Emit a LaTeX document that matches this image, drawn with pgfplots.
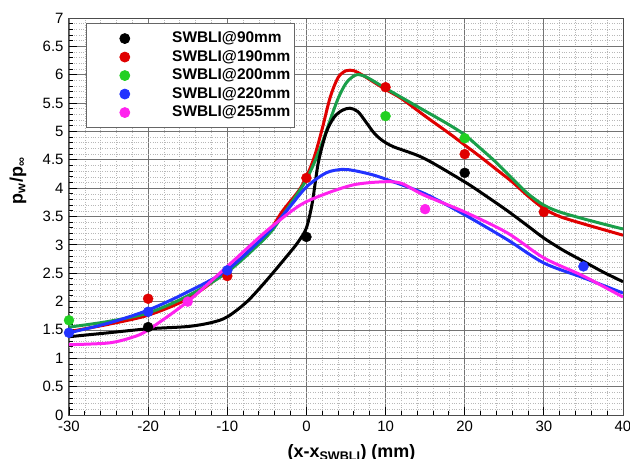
\documentclass[border=0pt]{standalone}
\usepackage{fontspec}
\setmainfont{Liberation Sans}
\usepackage{pgfplots}
\pgfplotsset{compat=1.18}
\definecolor{cgreenline}{HTML}{1A9F4A}
\definecolor{cgreendot}{HTML}{22D022}
\definecolor{cred}{HTML}{E00000}
\definecolor{cblue}{HTML}{2233FF}
\definecolor{cmag}{HTML}{FF22EE}
\begin{document}
\begin{tikzpicture}
\begin{axis}[
  scale only axis, width=554bp, height=397bp,
  xmin=-30, xmax=40, ymin=0, ymax=7,
  xtick={-30,-20,...,40}, ytick={0,0.5,...,7},
  minor x tick num=4, minor y tick num=4,
  grid=both,
  major grid style={draw=black!55, line width=0.8bp},
  minor grid style={draw=black!28, dotted, line width=0.6bp},
  tick align=inside,
  xtick pos=left, ytick pos=left,
  major tick length=8bp, minor tick length=4bp,
  tick style={black, line width=0.9bp},
  axis line style={black!70, line width=1bp},
  /pgf/number format/assume math mode=true,
  ticklabel style={font=\fontsize{15}{18}\selectfont},
  xticklabel style={yshift=-3bp},
  yticklabel style={xshift=-2bp},
  xlabel={\bfseries (x-x\textsubscript{SWBLI}) (mm)},
  xlabel style={font=\fontsize{18}{20}\selectfont, at={(axis description cs:0.51,0)}, anchor=north, yshift=-26bp},
  ylabel={\bfseries p\textsubscript{w}/p\textsubscript{∞}},
  ylabel style={font=\fontsize{18}{20}\selectfont, at={(axis description cs:-0.092,0.59)}, anchor=center, rotate=0},
  legend style={at={(axis description cs:0.0307,0.987)}, anchor=north west,
    draw=black!60, line width=0.8bp, fill=white,
    font=\bfseries\fontsize{15.5}{18}\selectfont,
    inner xsep=4bp, inner ysep=8bp, row sep=4.5bp,
    nodes={inner sep=0pt, text height=11bp, text depth=3bp}},
  legend cell align=left,
  legend image code/.code={\draw[#1] plot coordinates {(0bp,0bp)}; \path (-34bp,0bp) (47bp,0bp);},
]
% data points
\addplot[only marks, mark=*, mark size=5bp, black] coordinates {(-20,1.55) (0,3.14) (20,4.27)};
\addlegendentry{SWBLI@90mm}
\addplot[only marks, mark=*, mark size=5bp, cred] coordinates {(-20,2.05) (-10,2.45) (0,4.18) (10,5.78) (20,4.6) (30,3.58)};
\addlegendentry{SWBLI@190mm}
\addplot[only marks, mark=*, mark size=5bp, cgreendot] coordinates {(-30,1.67) (10,5.27) (20,4.88)};
\addlegendentry{SWBLI@200mm}
\addplot[only marks, mark=*, mark size=5bp, cblue] coordinates {(-30,1.45) (-20,1.82) (-10,2.55) (35,2.62)};
\addlegendentry{SWBLI@220mm}
\addplot[only marks, mark=*, mark size=5bp, cmag] coordinates {(-15,2.0) (15,3.63)};
\addlegendentry{SWBLI@255mm}
% curves
\addplot[forget plot, smooth, cred, line width=3bp] coordinates {
(-30,1.47) (-25,1.6) (-20,1.76) (-15,2.05) (-10,2.55) (-5,3.2) (-3,3.6) (-1,3.95) (0,4.2) (1,4.55) (2,5.05) (3,5.6) (4,5.95) (5,6.07) (6,6.07) (7,6.0) (8.5,5.87) (10,5.74) (12,5.58) (15,5.27) (18,4.97) (20,4.76) (22,4.55) (24,4.33) (26,4.11) (28,3.86) (30,3.64) (32,3.5) (35,3.37) (38,3.25) (40,3.17)};
\addplot[forget plot, smooth, cgreenline, line width=3bp] coordinates {
(-30,1.55) (-25,1.65) (-20,1.8) (-15,2.1) (-10,2.52) (-5,3.15) (-3,3.52) (-1,3.93) (0,4.15) (1,4.45) (2,4.8) (3,5.2) (4,5.58) (5,5.85) (6,5.98) (6.7,6.0) (7.7,5.95) (10,5.76) (12,5.6) (15,5.36) (18,5.12) (20,4.94) (22,4.7) (24,4.45) (26,4.17) (28,3.9) (30,3.7) (32,3.58) (35,3.46) (38,3.35) (40,3.28)};
\addplot[forget plot, smooth, black, line width=3bp] coordinates {
(-30,1.38) (-25,1.45) (-20,1.52) (-15,1.56) (-12,1.63) (-10,1.73) (-7.5,2.0) (-5,2.38) (-2,2.88) (-1,3.06) (0,3.3) (0.75,3.75) (1.5,4.45) (2.5,4.98) (3.5,5.25) (4.5,5.37) (5.5,5.41) (6.5,5.35) (7.5,5.17) (8.5,4.98) (9.5,4.85) (11,4.73) (14.8,4.53) (20,4.11) (22.5,3.88) (25.4,3.6) (28,3.33) (30,3.12) (32.5,2.9) (35,2.71) (37.5,2.52) (40,2.35)};
\addplot[forget plot, smooth, cblue, line width=3bp] coordinates {
(-30,1.45) (-25,1.62) (-20,1.85) (-15,2.17) (-10,2.56) (-5,3.2) (-2.5,3.6) (0,4.02) (2.5,4.27) (4.5,4.33) (6,4.31) (8.5,4.23) (11,4.11) (15,3.9) (20,3.53) (25.4,3.09) (30,2.68) (35,2.42) (40,2.15)};
\addplot[forget plot, smooth, cmag, line width=3bp] coordinates {
(-30,1.24) (-25,1.27) (-22,1.37) (-20,1.5) (-15,2.0) (-10,2.62) (-5,3.25) (-0.8,3.7) (2.6,3.91) (6,4.06) (9.4,4.11) (11.9,4.09) (14.8,3.88) (20,3.58) (25.4,3.21) (30,2.77) (35,2.45) (40,2.08)};
\end{axis}
\pgfresetboundingbox
\path[use as bounding box] (-69bp,-44bp) rectangle (561bp,415bp);
\end{tikzpicture}
\end{document}
